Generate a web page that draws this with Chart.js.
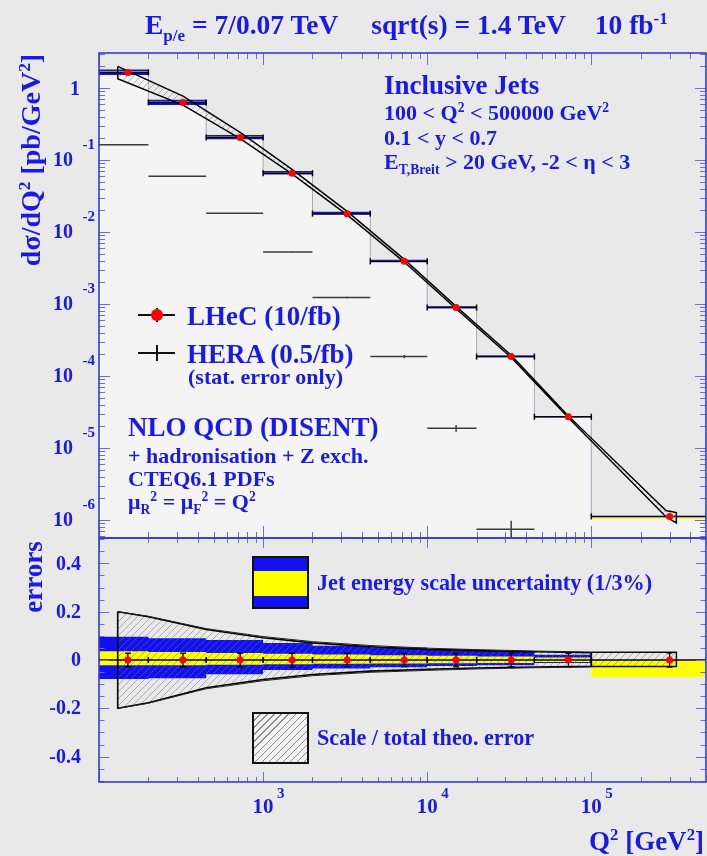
<!DOCTYPE html>
<html>
<head>
<meta charset="utf-8">
<script src="https://cdn.jsdelivr.net/npm/chart.js@4.4.1/dist/chart.umd.min.js"></script>
<style>
    body { margin: 0; background: #e9e9e9; }
    #wrap { position: relative; width: 707px; height: 856px; overflow: hidden;
            font-family: "Liberation Serif", "Times New Roman", serif; font-weight: bold; color: #1a1ae8; }
    canvas { position: absolute; left: 0; }
    .t { position: absolute; white-space: nowrap; line-height: 1; transform: translateY(-50%); }
    .rot { position: absolute; white-space: nowrap; line-height: 1; transform: translate(-50%, -50%) rotate(-90deg); }
    sub, sup { font-size: 62%; line-height: 0; }
    .box { position: absolute; box-sizing: border-box; border: 2px solid #111; }
    .ln { position: absolute; background: #111; }
</style>
</head>
<body>
<div id="wrap">
    <canvas id="topPad" width="707" height="545" style="top:0"></canvas>
    <canvas id="botPad" width="707" height="326" style="top:530px"></canvas>

    <div class="t" style="left:145px; top:25px; font-size:27.5px">E<sub>p/e</sub> = 7/0.07 TeV<span style="margin-left:33px">sqrt(s) = 1.4 TeV</span><span style="margin-left:29px">10 fb<sup>-1</sup></span></div>

    <div class="rot" style="left:31px; top:160px; font-size:28px">dσ/dQ<sup>2</sup> [pb/GeV<sup>2</sup>]</div>
    <div class="rot" style="left:33px; top:577px; font-size:27px">errors</div>
    <div class="t" style="right:3px; top:841px; font-size:27px">Q<sup>2</sup> [GeV<sup>2</sup>]</div>

    <div class="t" style="left:384px; top:85px; font-size:27px">Inclusive Jets</div>
    <div class="t" style="left:384px; top:113px; font-size:22px">100 &lt; Q<sup>2</sup> &lt; 500000 GeV<sup>2</sup></div>
    <div class="t" style="left:384px; top:138px; font-size:22px">0.1 &lt; y &lt; 0.7</div>
    <div class="t" style="left:384px; top:162px; font-size:22px">E<sub>T,Breit</sub> &gt; 20 GeV, -2 &lt; η &lt; 3</div>

    <!-- legend symbols, top pad -->
    <div class="ln" style="left:138px; top:314px; width:37px; height:1.5px"></div>
    <div class="ln" style="left:156px; top:308px; width:1.5px; height:14px"></div>
    <div style="position:absolute; left:151px; top:309px; width:12px; height:12px; border-radius:50%; background:#ff0000"></div>
    <div class="ln" style="left:138px; top:352px; width:37px; height:1.5px"></div>
    <div class="ln" style="left:156px; top:345px; width:1.5px; height:16px"></div>

    <div class="t" style="left:187px; top:316px; font-size:27px">LHeC (10/fb)</div>
    <div class="t" style="left:187px; top:354px; font-size:27px">HERA (0.5/fb)</div>
    <div class="t" style="left:188px; top:377px; font-size:22px">(stat. error only)</div>
    <div class="t" style="left:128px; top:427px; font-size:27px">NLO QCD (DISENT)</div>
    <div class="t" style="left:128px; top:456px; font-size:22px">+ hadronisation + Z exch.</div>
    <div class="t" style="left:128px; top:479px; font-size:22px">CTEQ6.1 PDFs</div>
    <div class="t" style="left:128px; top:502px; font-size:22px">μ<sub>R</sub><sup>2</sup> = μ<sub>F</sub><sup>2</sup> = Q<sup>2</sup></div>

    <!-- legend symbols, bottom pad -->
    <div class="box" style="left:252px; top:556px; width:57px; height:53px; background:linear-gradient(#1010f0 0 13px, #ffff00 13px 38px, #1010f0 38px)"></div>
    <div class="t" style="left:317px; top:583px; font-size:22.2px">Jet energy scale uncertainty (1/3%)</div>
    <div class="box" style="left:252px; top:712px; width:57px; height:52px; background:repeating-linear-gradient(135deg, rgba(0,0,0,0) 0 4px, #8a8a8a 4px 5px), #f2f2f2"></div>
    <div class="t" style="left:317px; top:738px; font-size:22.2px">Scale / total theo. error</div>
</div>

<script>
// Q2 bins (GeV^2)
const binEdges = [100, 200, 450, 1000, 2000, 4500, 10000, 20000, 45000, 100000, 500000];
const binCenters = [150, 325, 725, 1500, 3250, 7250, 15000, 32500, 72500, 300000];

// dsigma/dQ2 [pb/GeV^2]
const lhecXsec = [1.65, 0.632, 0.206, 0.0656, 0.0180, 0.00391, 8.93e-4, 1.86e-4, 2.71e-5, 1.12e-6];
const lhecStat = [0.028, 0.028, 0.028, 0.028, 0.028, 0.028, 0.028, 0.028, 0.028, 0.029];
const heraXsec = [0.163, 0.0596, 0.0182, 0.00526, 0.00123, 1.86e-4, 1.88e-5, 7.4e-7];
const heraStat = [0.003, 0.004, 0.006, 0.010, 0.025, 0.055, 0.11, 0.32];

// jet energy scale uncertainty (relative), outer = 3%, inner = 1%
const jesOuterUp = [0.096, 0.090, 0.083, 0.070, 0.059, 0.052, 0.045, 0.037, 0.022, 0.0];
const jesOuterDn = [0.079, 0.076, 0.059, 0.041, 0.035, 0.030, 0.025, 0.022, 0.012, 0.0];
const jesInnerUp = [0.036, 0.033, 0.029, 0.026, 0.023, 0.020, 0.018, 0.015, 0.010, 0.0];
const jesInnerDn = [0.022, 0.022, 0.020, 0.018, 0.016, 0.015, 0.013, 0.012, 0.008, 0.070];

// NLO theory, relative scale / total errors
const theoQ2 = [130, 200, 450, 1000, 2000, 4500, 10000, 20000, 45000, 100000];
const scaleUp = [0.200, 0.179, 0.126, 0.092, 0.071, 0.055, 0.044, 0.039, 0.034, 0.030];
const scaleDn = [0.200, 0.177, 0.115, 0.081, 0.060, 0.046, 0.038, 0.033, 0.029, 0.026];
const totalUp = [0.200, 0.181, 0.130, 0.097, 0.076, 0.060, 0.049, 0.043, 0.037, 0.033];
const totalDn = [0.200, 0.179, 0.119, 0.086, 0.065, 0.051, 0.043, 0.037, 0.032, 0.029];
const lastBinQ2 = [100000, 330000];
const lastBinUp = 0.032;
const lastBinDn = 0.027;

// NLO theory band in the cross section pad [pb/GeV^2]
const theoTopQ2 = [130, 325, 725, 1500, 3250, 7250, 15000, 32500, 72500, 285000, 330000];
const theoTopHi = [2.0, 0.773, 0.242, 0.0743, 0.01937, 0.00417, 9.27e-4, 1.94e-4, 2.79e-5, 1.35e-6, 1.27e-6];
const theoTopLo = [1.35, 0.578, 0.198, 0.0641, 0.01729, 0.00382, 8.59e-4, 1.81e-4, 2.63e-5, 1.11e-6, 9.08e-7];

// axis ticks
const xMajor = [1000, 10000, 100000];
const yTopMajor = [1, 0.1, 0.01, 1e-3, 1e-4, 1e-5, 1e-6];
const yBotMajor = [0.4, 0.2, 0, -0.2, -0.4];
const yBotLabels = ['0.4', '0.2', '0', '-0.2', '-0.4'];

const textColor = '#1a1ae8';
const frameColor = '#3a3ad8';
const tickColor = '#6c6ce0';
const blue = '#1010f0';
const yellow = '#ffff00';

function makeHatch(step) {
    const c = document.createElement('canvas');
    c.width = c.height = step;
    const g = c.getContext('2d');
    g.strokeStyle = 'rgba(115,115,115,0.65)';
    g.lineWidth = 0.8;
    g.beginPath();
    g.moveTo(-1, step + 1); g.lineTo(step + 1, -1);
    g.moveTo(-1, 1); g.lineTo(1, -1);
    g.moveTo(step - 1, step + 1); g.lineTo(step + 1, step - 1);
    g.stroke();
    return g.createPattern(c, 'repeat');
}
const hatch = makeHatch(7);

// histogram-like step line through the bin edges
const stepPts = vals => binEdges.map((e, i) => ({ x: e, y: vals[Math.min(i, vals.length - 1)] }));
// separate segments, split by null points
const segs = list => list.flatMap(([x1, y1, x2, y2]) => [{ x: x1, y: y1 }, { x: x2, y: y2 }, { x: x2, y: null }]);
const pts = (xs, ys) => xs.map((x, i) => ({ x: x, y: ys[i] }));
const closed = (xs, hi, lo) => {
    const p = pts(xs, hi).concat(pts(xs, lo).reverse());
    p.push(p[0]);
    return p;
};

const none = 'rgba(0,0,0,0)';
const plain = (data, extra) => Object.assign({ data: data, borderColor: none, borderWidth: 0, pointRadius: 0, fill: false }, extra);

function logTicks() {
    const t = [];
    for (let e = 2; e <= 5; e++) {
        for (let m = 1; m <= 9; m++) {
            const v = m * Math.pow(10, e);
            if (v >= 100 && v <= 500000) t.push({ v: v, major: m === 1 });
        }
    }
    return t;
}
function logYTicks() {
    const t = [];
    for (let e = -7; e <= 0; e++) {
        for (let m = 1; m <= 9; m++) {
            t.push({ v: m * Math.pow(10, e), major: m === 1 });
        }
    }
    return t;
}
function linYTicks() {
    const t = [];
    for (let i = -10; i <= 10; i++) t.push({ v: i * 0.05, major: i % 4 === 0 });
    return t;
}

// frame, ROOT-style inner ticks and tick labels
function padPlugin(cfg) {
    return {
        id: 'pad',
        afterDatasetsDraw(chart) {
            const { ctx, chartArea: a, scales: { x, y } } = chart;
            ctx.save();
            ctx.beginPath();
            ctx.rect(a.left, a.top, a.right - a.left, a.bottom - a.top);
            ctx.clip();
            ctx.strokeStyle = tickColor;
            ctx.lineWidth = 1;
            ctx.beginPath();
            logTicks().forEach(t => {
                const px = Math.round(x.getPixelForValue(t.v)) + 0.5;
                const len = t.major ? cfg.xMaj : cfg.xMin;
                ctx.moveTo(px, a.bottom); ctx.lineTo(px, a.bottom - len);
                ctx.moveTo(px, a.top); ctx.lineTo(px, a.top + len);
            });
            cfg.yTicks.forEach(t => {
                if (t.v < y.min || t.v > y.max) return;
                const py = Math.round(y.getPixelForValue(t.v)) + 0.5;
                const len = t.major ? cfg.yMaj : cfg.yMin;
                ctx.moveTo(a.left, py); ctx.lineTo(a.left + len, py);
                ctx.moveTo(a.right, py); ctx.lineTo(a.right - len, py);
            });
            ctx.stroke();
            ctx.restore();

            ctx.save();
            ctx.strokeStyle = frameColor;
            ctx.lineWidth = 1.6;
            ctx.strokeRect(a.left, a.top, a.right - a.left, a.bottom - a.top);
            ctx.fillStyle = textColor;
            cfg.labels(ctx, x, y, a);
            ctx.restore();
        }
    };
}

function topLabels(ctx, x, y) {
    ctx.textAlign = 'right';
    ctx.textBaseline = 'middle';
    yTopMajor.forEach(v => {
        const py = y.getPixelForValue(v);
        const e = Math.round(Math.log10(v));
        if (e === 0) {
            ctx.font = 'bold 20px "Liberation Serif"';
            ctx.fillText('1', 80, py + 2);
        } else {
            ctx.font = 'bold 20px "Liberation Serif"';
            ctx.fillText('10', 73, py + 1);
            ctx.font = 'bold 15px "Liberation Serif"';
            ctx.fillText(String(e), 95, py - 15);
        }
    });
}

function botLabels(ctx, x, y) {
    ctx.textBaseline = 'middle';
    ctx.textAlign = 'right';
    ctx.font = 'bold 20px "Liberation Serif"';
    yBotMajor.forEach((v, i) => {
        ctx.fillText(yBotLabels[i], 81, y.getPixelForValue(v) + 1);
    });
    xMajor.forEach(v => {
        const px = x.getPixelForValue(v);
        const e = Math.round(Math.log10(v));
        ctx.textAlign = 'center';
        ctx.font = 'bold 21px "Liberation Serif"';
        ctx.fillText('10', px, 278);
        ctx.textAlign = 'left';
        ctx.font = 'bold 15px "Liberation Serif"';
        ctx.fillText(String(e), px + 14, 264.5);
    });
}

function order(list) {
    return list.map((d, i) => Object.assign({ order: -i, spanGaps: false, tension: 0 }, d));
}

const baseOptions = (yScale, padding) => ({
    responsive: false,
    maintainAspectRatio: false,
    animation: false,
    layout: { padding: padding, autoPadding: false },
    plugins: { legend: { display: false }, tooltip: { enabled: false } },
    events: [],
    scales: {
        x: { type: 'logarithmic', min: 100, max: 500000, display: false },
        y: Object.assign({ display: false }, yScale)
    }
});

// ---- cross section pad ----
const topSets = order([
    plain(stepPts(lhecXsec), { stepped: true, fill: 'start', backgroundColor: '#f4f4f4', borderColor: '#a9a9b6', borderWidth: 1 }),
    plain(segs(heraXsec.map((v, i) => [binEdges[i], v, binEdges[i + 1], v])), { borderColor: '#3c3c3c', borderWidth: 1.5 }),
    plain(segs(heraXsec.map((v, i) => [binCenters[i], v * (1 - heraStat[i]), binCenters[i], v * (1 + heraStat[i])])), { borderColor: '#3c3c3c', borderWidth: 1.5 }),
    plain(stepPts(lhecXsec.map((v, i) => v * (1 + jesOuterUp[i]))), { stepped: true }),
    plain(stepPts(lhecXsec.map((v, i) => v * (1 - jesOuterDn[i]))), { stepped: true, fill: '-1', backgroundColor: blue }),
    plain(stepPts(lhecXsec.map((v, i) => v * (1 + jesInnerUp[i]))), { stepped: true }),
    plain(stepPts(lhecXsec.map((v, i) => v * (1 - jesInnerDn[i]))), { stepped: true, fill: '-1', backgroundColor: yellow }),
    plain(segs(lhecXsec.map((v, i) => [binEdges[i], v, binEdges[i + 1], v])), {
        borderColor: '#000', borderWidth: 1.5, pointRadius: 3, pointStyle: 'line', rotation: 90,
        pointBorderColor: '#000', pointBorderWidth: 1.5
    }),
    plain(pts(theoTopQ2, theoTopHi)),
    plain(pts(theoTopQ2, theoTopLo), { fill: '-1', backgroundColor: hatch }),
    plain(closed(theoTopQ2, theoTopHi, theoTopLo), { borderColor: '#000', borderWidth: 1.4 }),
    plain(pts(binCenters, lhecXsec), { showLine: false, pointRadius: 3.5, pointBackgroundColor: '#ff0000', pointBorderWidth: 0 })
]);

new Chart(document.getElementById('topPad'), {
    type: 'line',
    data: { datasets: topSets },
    options: baseOptions({ type: 'logarithmic', min: 5.61e-7, max: 3.07 }, { left: 99, right: 1, top: 53, bottom: 7 }),
    plugins: [padPlugin({ xMaj: 12, xMin: 6, yMaj: 11, yMin: 6, yTicks: logYTicks(), labels: topLabels })]
});

// ---- relative errors pad ----
const neg = a => a.map(v => -v);
const botSets = order([
    plain(stepPts(jesOuterUp), { stepped: true }),
    plain(stepPts(neg(jesOuterDn)), { stepped: true, fill: '-1', backgroundColor: blue }),
    plain(stepPts(jesInnerUp), { stepped: true }),
    plain(stepPts(neg(jesInnerDn)), { stepped: true, fill: '-1', backgroundColor: yellow }),
    plain(pts(theoQ2, totalUp)),
    plain(pts(theoQ2, neg(totalDn)), { fill: '-1', backgroundColor: hatch }),
    plain(pts(lastBinQ2, [lastBinUp, lastBinUp])),
    plain(pts(lastBinQ2, [-lastBinDn, -lastBinDn]), { fill: '-1', backgroundColor: hatch }),
    plain(closed(theoQ2, scaleUp, neg(scaleDn)), { borderColor: '#000', borderWidth: 1.6 }),
    plain(pts(theoQ2, totalUp), { borderColor: '#222', borderWidth: 1 }),
    plain(pts(theoQ2, neg(totalDn)), { borderColor: '#222', borderWidth: 1 }),
    plain(closed(lastBinQ2, [lastBinUp, lastBinUp], [-lastBinDn, -lastBinDn]), { borderColor: '#111', borderWidth: 1.5 }),
    plain(segs(binCenters.map((c, i) => [binEdges[i], 0, binEdges[i + 1], 0])), {
        borderColor: '#000', borderWidth: 1.3, pointRadius: 3, pointStyle: 'line', rotation: 90,
        pointBorderColor: '#000', pointBorderWidth: 1.3
    }),
    plain(segs(binCenters.map((c, i) => [c, -lhecStat[i], c, lhecStat[i]])), {
        borderColor: '#000', borderWidth: 1.3, pointRadius: 3, pointStyle: 'line', rotation: 0,
        pointBorderColor: '#000', pointBorderWidth: 1.3
    }),
    plain(pts(binCenters, binCenters.map(() => 0)), { showLine: false, pointRadius: 3.5, pointBackgroundColor: '#ff0000', pointBorderWidth: 0 })
]);

new Chart(document.getElementById('botPad'), {
    type: 'line',
    data: { datasets: botSets },
    options: baseOptions({ type: 'linear', min: -0.505, max: 0.505 }, { left: 99, right: 1, top: 8, bottom: 74 }),
    plugins: [padPlugin({ xMaj: 10, xMin: 5, yMaj: 10, yMin: 5.5, yTicks: linYTicks(), labels: botLabels })]
});
</script>
</body>
</html>
